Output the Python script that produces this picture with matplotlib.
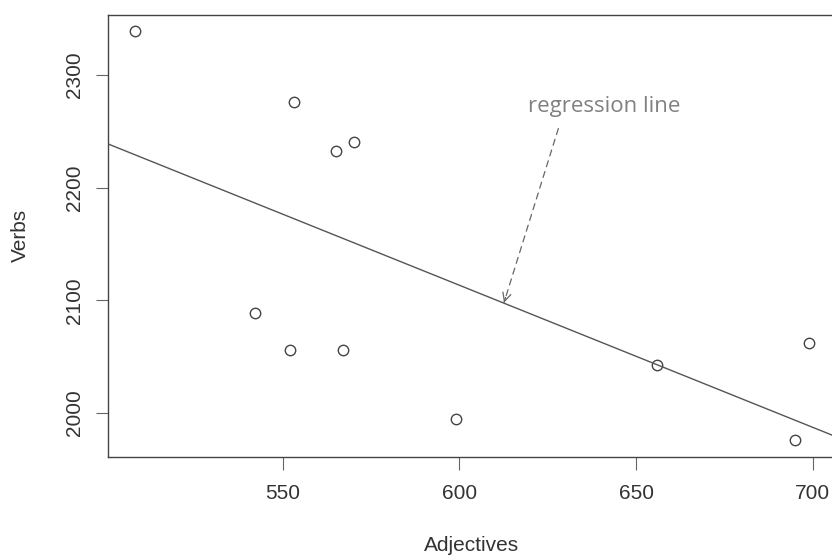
import numpy as np
import matplotlib
matplotlib.use("Agg")
import matplotlib.pyplot as plt

# adjectives vs verbs counts
adjectives = [508, 553, 565, 570, 542, 552, 567, 599, 656, 699, 695]
verbs = [2339, 2276, 2233, 2241, 2089, 2056, 2056, 1995, 2043, 2062, 1976]
xticks = [550, 600, 650, 700]
yticks = [2000, 2100, 2200, 2300]

plt.rcParams['font.family'] = ['Liberation Sans', 'DejaVu Sans']

fig = plt.figure(figsize=(8.32, 5.56), dpi=100)
# box runs slightly past the right edge like the original
ax = fig.add_axes([107.7/832, 99.5/556, 728.3/832, 441.8/556])

x = np.array(adjectives)
y = np.array(verbs)
# R style 4% padding on the axis ranges
xr = x.max() - x.min()
yr = y.max() - y.min()
ax.set_xlim(x.min() - 0.04*xr, x.max() + 0.04*xr)
ax.set_ylim(y.min() - 0.04*yr, y.max() + 0.04*yr)

ax.plot(x, y, 'o', mfc='none', mec='#444444', ms=7.5, mew=1.0)

slope, icept = np.polyfit(x, y, 1)
ax.axline((x.mean(), icept + slope*x.mean()), slope=slope, color='#555555', lw=1.0)

# dashed shaft + solid head
tip = (612.6, 2098.0)
tail = (628, 2252.5)
ax.annotate('', xy=tip, xytext=tail,
            arrowprops=dict(arrowstyle='-', color='#666666', lw=0.9,
                            linestyle=(0, (5, 4)), shrinkA=0, shrinkB=0))
near = (tip[0] + (tail[0]-tip[0])*0.03, tip[1] + (tail[1]-tip[1])*0.03)
ax.annotate('', xy=tip, xytext=near,
            arrowprops=dict(arrowstyle='->,head_length=0.6,head_width=0.3',
                            color='#666666', lw=0.9, mutation_scale=10,
                            shrinkA=0, shrinkB=0))
ax.text(641, 2272, 'regression line', ha='center', va='center',
        fontsize=16, color='#808080', family=['Open Sans', 'DejaVu Sans'])

ax.set_xticks(xticks)
ax.set_yticks(yticks)
ax.set_yticklabels([str(v) for v in yticks], rotation=90, va='center')
ax.tick_params(axis='both', length=9, width=0.8, color='#666666',
               labelsize=15, labelcolor='#333333')
ax.tick_params(axis='x', pad=10.5)
ax.tick_params(axis='y', pad=8)
for s in ax.spines.values():
    s.set_color('#444444')
    s.set_linewidth(1.0)

ax.set_xlabel('Adjectives', fontsize=15, color='#333333', va='center')
ax.set_ylabel('Verbs', fontsize=15, color='#333333', va='center')
ax.xaxis.set_label_coords(0.5, (456.5-545.3)/441.8)
ax.yaxis.set_label_coords((20-107.7)/728.3, 0.5)

fig.savefig('out.png', dpi=100)
